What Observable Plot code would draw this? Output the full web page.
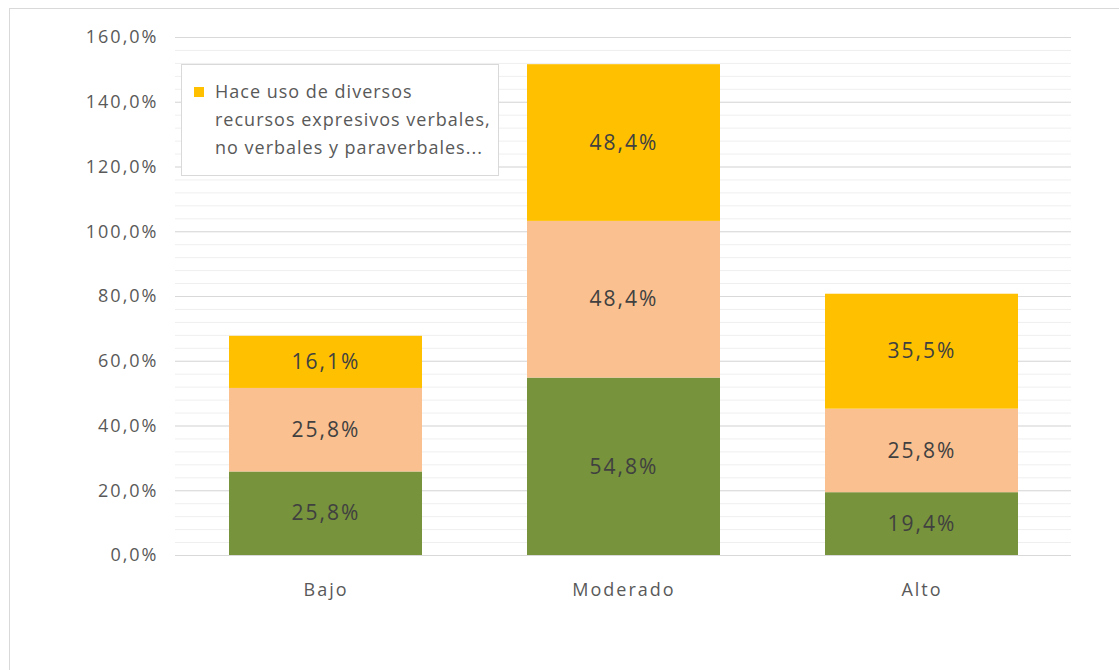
<!DOCTYPE html>
<html>
<head>
<meta charset="utf-8">
<script src="https://cdn.jsdelivr.net/npm/d3@7"></script>
<script src="https://cdn.jsdelivr.net/npm/@observablehq/plot@0.6"></script>
<style>
  html, body { margin: 0; padding: 0; background: #fff; }
  #wrap { position: relative; width: 1119px; height: 670px; overflow: hidden; font-family: "Open Sans", sans-serif; }
  #frame { position: absolute; left: 9px; top: 8px; width: 1300px; height: 900px; border: 1px solid #d9d9d9; box-sizing: border-box; }
  #chart { position: absolute; left: 0; top: 0; }
  #legend { position: absolute; left: 181px; top: 64px; width: 318px; height: 112px; border: 1px solid #d9d9d9; background: #fff; box-sizing: border-box; }
  #legend .sw { position: absolute; left: 12px; top: 22px; width: 10px; height: 10px; background: #FFC000; }
  #legend .tx { position: absolute; left: 33px; top: 12px; font-size: 18px; line-height: 28px; color: #595959; letter-spacing: 1px; white-space: nowrap; }
</style>
</head>
<body>
<div id="wrap">
  <div id="frame"></div>
  <div id="chart"></div>
  <div id="legend"><div class="sw"></div><div class="tx">Hace uso de diversos<br>recursos expresivos verbales,<br>no verbales y paraverbales...</div></div>
</div>
<script>
const categories = ["Bajo", "Moderado", "Alto"];
const seriesNames = ["Serie 1", "Serie 2", "Hace uso de diversos recursos expresivos verbales, no verbales y paraverbales..."];
const seriesColors = ["#77933C", "#FAC090", "#FFC000"];
const serie1 = [25.8, 54.8, 19.4];
const serie2 = [25.8, 48.4, 25.8];
const serie3 = [16.1, 48.4, 35.5];
const yTicks = [0, 20, 40, 60, 80, 100, 120, 140, 160];
const yMinor = d3.range(0, 161, 4);

const allSeries = [serie1, serie2, serie3];
const data = [];
allSeries.forEach((vals, si) => {
  vals.forEach((v, ci) => data.push({cat: categories[ci], series: seriesNames[si], value: v, order: si}));
});

const fmt = d => d.toFixed(1).replace(".", ",") + "%";

const chart = Plot.plot({
  width: 1119,
  height: 670,
  marginLeft: 175,
  marginRight: 48,
  marginTop: 37,
  marginBottom: 115,
  style: {fontFamily: "Open Sans, sans-serif", background: "transparent", letterSpacing: "2px"},
  x: {domain: categories, paddingInner: 0.354, paddingOuter: 0.177, label: null},
  y: {domain: [0, 160], label: null},
  color: {domain: seriesNames, range: seriesColors},
  marks: [
    Plot.ruleY(yMinor, {stroke: "#efefef", strokeWidth: 1}),
    Plot.ruleY(yTicks, {stroke: "#d9d9d9", strokeWidth: 1}),
    Plot.barY(data, {x: "cat", y: "value", fill: "series", order: seriesNames}),
    Plot.text(data, Plot.stackY({x: "cat", y: "value", z: "series", order: seriesNames, text: d => fmt(d.value), fill: "#404040", fontSize: 21})),
    Plot.axisY(yTicks, {tickSize: 0, tickPadding: 17, tickFormat: fmt, fontSize: 18, fill: "#595959"}),
    Plot.axisX({tickSize: 0, tickPadding: 28, fontSize: 18, fill: "#595959"})
  ]
});
document.getElementById("chart").appendChild(chart);
</script>
</body>
</html>
